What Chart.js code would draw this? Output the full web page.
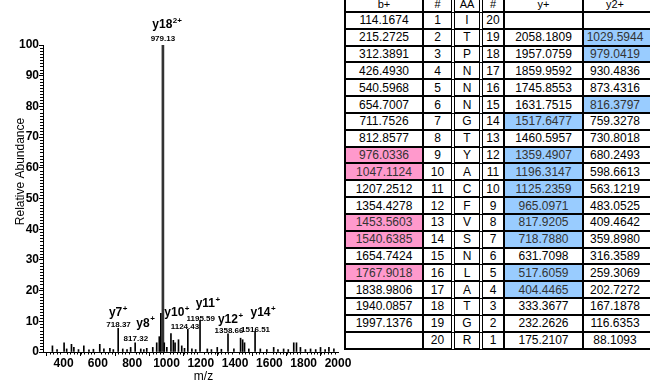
<!DOCTYPE html>
<html>
<head>
<meta charset="utf-8">
<script src="https://cdn.jsdelivr.net/npm/chart.js@4/dist/chart.umd.min.js"></script>
<style>
  html, body { margin: 0; padding: 0; background: #fff; overflow: hidden; }
  #wrap { position: relative; width: 650px; height: 385px; }
  #spec { position: absolute; left: 0; top: 0; }
  #frag {
    position: absolute; left: 344px; top: -4px; z-index: 2;
    display: grid;
    grid-template-columns: 78px 31px 28px 22px 79px 72px;
    grid-template-rows: 15px repeat(20, 16.84px);
    border-left: 2px solid #000; border-top: 2px solid #000;
    background: #fff;
    font-family: "Liberation Sans", Arial, sans-serif; font-size: 12px;
  }
  #frag div {
    box-sizing: border-box;
    border-right: 2px solid #000; border-bottom: 2px solid #000;
    display: flex; align-items: center; justify-content: center;
    color: #000; white-space: nowrap; line-height: 1;
  }
  #frag div.hd { font-size: 11px; }
  #frag div.c2, #frag div.c3 { border-right: 4px double #000; }
  #frag div.c6 { padding-right: 8px; }
  #frag div.pink { background: #ff99cc; color: #333; }
  #frag div.blue { background: #99ccff; color: #333; }
</style>
</head>
<body>
<div id="wrap">
  <canvas id="spec" width="650" height="385"></canvas>
  <div id="frag"></div>
</div>
<script>
// ---- spectrum: annotated fragment ions ----
const ionMz        = [718.37, 817.32, 979.13, 1124.43, 1195.59, 1358.66, 1516.51];
const ionIntensity = [7.7,    3.0,    100,    7.4,     10.3,    5.9,     6.8];
const ionNames     = ['y7',   'y8',   'y18',  'y10',   'y11',   'y12',   'y14'];
const ionCharges   = ['+',    '+',    '2+',   '+',     '+',     '+',     '+'];

// ---- spectrum: unassigned peaks ----
const otherMz = [335, 362, 403, 418, 446, 460, 487, 518, 548, 574, 611, 635, 670, 690,
  745, 770, 791, 850, 868, 885, 920, 943, 958, 967, 987, 1002, 1026, 1040, 1050, 1070,
  1089, 1105, 1148, 1170, 1238, 1262, 1296, 1320, 1393, 1432, 1444, 1455, 1480, 1547,
  1585, 1625, 1650, 1683, 1710, 1742, 1758, 1781, 1810, 1840, 1870, 1898, 1925, 1947, 1976];
const otherIntensity = [2.0, 0.8, 3.0, 1.0, 2.5, 1.5, 0.8, 2.0, 0.7, 0.9, 2.5, 1.0, 1.2, 0.8,
  1.0, 0.8, 1.5, 1.0, 0.8, 1.2, 1.5, 3.0, 5.0, 12.6, 3.0, 1.5, 6.0, 3.8, 3.0, 4.0,
  2.0, 1.2, 1.0, 0.8, 1.0, 0.8, 1.5, 0.9, 1.0, 4.5, 4.0, 3.0, 1.0, 1.0,
  0.8, 1.5, 0.8, 1.0, 0.8, 3.0, 3.0, 1.5, 0.8, 1.0, 0.8, 1.5, 0.8, 1.5, 1.0];

// ---- axes ----
const xTickValues = [400, 600, 800, 1000, 1200, 1400, 1600, 1800, 2000];
const yTickValues = [0, 10, 20, 30, 40, 50, 60, 70, 80, 90, 100];

// ---- fragment table ----
const bIons = [114.1674, 215.2725, 312.3891, 426.4930, 540.5968, 654.7007, 711.7526, 812.8577,
  976.0336, 1047.1124, 1207.2512, 1354.4278, 1453.5603, 1540.6385, 1654.7424, 1767.9018,
  1838.9806, 1940.0857, 1997.1376, null];
const residues = ['I','T','P','N','N','N','G','T','Y','A','C','F','V','S','N','L','A','T','G','R'];
const yIons = [null, 2058.1809, 1957.0759, 1859.9592, 1745.8553, 1631.7515, 1517.6477, 1460.5957,
  1359.4907, 1196.3147, 1125.2359, 965.0971, 817.9205, 718.7880, 631.7098, 517.6059,
  404.4465, 333.3677, 232.2626, 175.2107];
const y2Ions = [null, 1029.5944, 979.0419, 930.4836, 873.4316, 816.3797, 759.3278, 730.8018,
  680.2493, 598.6613, 563.1219, 483.0525, 409.4642, 359.8980, 316.3589, 259.3069,
  202.7272, 167.1878, 116.6353, 88.1093];
const bMatched  = [9, 10, 13, 14, 16];
const yMatched  = [7, 9, 10, 11, 12, 13, 14, 16, 17];
const y2Matched = [2, 3, 6];

// label placement around each annotated peak top: [valueDx, valueDy, nameDx, nameDy]
const labelPlacement = [
  [0.4, -3.4, 0, -15.7],
  [0.7, -3.5, 10.4, -19.5],
  [0, -6.7, 4.2, -20],
  [-2.9, -2.6, -10.9, -16.6],
  [0.7, -1.4, 7.9, -16.4],
  [1, -3.2, 2.5, -13.9],
  [0.5, -1.8, 8, -18.4]
];

const FONT = '"Liberation Sans", Arial, sans-serif';

// build the fragment table
(function buildTable() {
  const grid = document.getElementById('frag');
  const add = (text, cls) => {
    const d = document.createElement('div');
    d.className = cls;
    d.textContent = text;
    grid.appendChild(d);
  };
  ['b+', '#', 'AA', '#', 'y+', 'y2+'].forEach((h, i) => add(h, 'hd c' + (i + 1)));
  const n = residues.length;
  for (let i = 0; i < n; i++) {
    const row = i + 1;
    add(bIons[i] == null ? '' : bIons[i].toFixed(4), 'c1' + (bMatched.includes(row) ? ' pink' : ''));
    add(String(row), 'c2');
    add(residues[i], 'c3');
    add(String(n - i), 'c4');
    add(yIons[i] == null ? '' : yIons[i].toFixed(4), 'c5' + (yMatched.includes(row) ? ' blue' : ''));
    add(y2Ions[i] == null ? '' : y2Ions[i].toFixed(4), 'c6' + (y2Matched.includes(row) ? ' blue' : ''));
  }
})();

const basePeak = Math.max(...ionIntensity);
const minorTicks = {
  id: 'minorTicks',
  afterDraw(chart) {
    const { ctx, chartArea: a, scales: { x, y } } = chart;
    ctx.save();
    ctx.strokeStyle = '#000';
    ctx.lineWidth = 1;
    ctx.beginPath();
    for (let v = 1; v < 100; v++) {
      if (v % 10 === 0) continue;
      const py = Math.round(y.getPixelForValue(v)) + 0.5;
      ctx.moveTo(a.left - 3, py); ctx.lineTo(a.left, py);
    }
    for (let v = 300; v < 2000; v += 20) {
      if (v % 200 === 0) continue;
      const px = Math.round(x.getPixelForValue(v)) + 0.5;
      ctx.moveTo(px, a.bottom); ctx.lineTo(px, a.bottom + 2.5);
    }
    ctx.stroke();
    ctx.restore();
  }
};

const peakLabels = {
  id: 'peakLabels',
  afterDatasetsDraw(chart) {
    const { ctx, scales: { x, y } } = chart;
    ctx.save();
    ctx.fillStyle = '#000';
    ctx.textBaseline = 'middle';
    ionMz.forEach((mz, i) => {
      const px = x.getPixelForValue(mz);
      const py = y.getPixelForValue(ionIntensity[i]);
      const p = labelPlacement[i];
      ctx.font = 'bold 8px ' + FONT;
      ctx.textAlign = 'center';
      ctx.fillText(mz.toFixed(2), px + p[0], py + p[1]);
      ctx.font = 'bold 12px ' + FONT;
      const wName = ctx.measureText(ionNames[i]).width;
      ctx.font = 'bold 8px ' + FONT;
      const wCharge = ctx.measureText(ionCharges[i]).width;
      const left = px + p[2] - (wName + wCharge + 0.5) / 2;
      ctx.textAlign = 'left';
      ctx.font = 'bold 12px ' + FONT;
      ctx.fillText(ionNames[i], left, py + p[3]);
      ctx.font = 'bold 8px ' + FONT;
      ctx.fillText(ionCharges[i], left + wName + 0.5, py + p[3] - 4);
    });
    ctx.restore();
  }
};

const axisTitles = {
  id: 'axisTitles',
  afterDraw(chart) {
    const { ctx, chartArea: a } = chart;
    ctx.save();
    ctx.fillStyle = '#000';
    ctx.font = '12px ' + FONT;
    ctx.textAlign = 'center';
    ctx.textBaseline = 'middle';
    ctx.fillText('m/z', (a.left + a.right) / 2 + 13, a.bottom + 25);
    ctx.translate(21, (a.top + a.bottom) / 2 - 27);
    ctx.rotate(-Math.PI / 2);
    ctx.fillText('Relative Abundance', 0, 0);
    ctx.restore();
  }
};

new Chart(document.getElementById('spec'), {
  type: 'bar',
  data: {
    datasets: [
      {
        data: otherMz.map((m, i) => ({ x: m, y: otherIntensity[i] })),
        backgroundColor: '#000', barThickness: 1, grouped: false
      },
      {
        data: ionMz.map((m, i) => ({ x: m, y: ionIntensity[i] })).filter(d => d.y < basePeak),
        backgroundColor: '#000', barThickness: 1, grouped: false
      },
      {
        data: ionMz.map((m, i) => ({ x: m, y: ionIntensity[i] })).filter(d => d.y === basePeak),
        backgroundColor: '#333', barThickness: 2, grouped: false
      }
    ]
  },
  options: {
    responsive: false,
    animation: false,
    devicePixelRatio: 1,
    events: [],
    layout: { padding: { left: 0, right: 312, top: 45, bottom: 0 } },
    plugins: { legend: { display: false }, tooltip: { enabled: false } },
    scales: {
      x: {
        type: 'linear', min: 280, max: 2000, offset: false,
        afterBuildTicks: s => { s.ticks = xTickValues.map(v => ({ value: v })); },
        afterFit: s => { s.height = 33; },
        grid: { drawOnChartArea: false, drawTicks: true, tickLength: 4, color: '#000' },
        border: { display: true, color: '#000', width: 1 },
        ticks: {
          color: '#000', font: { family: FONT, size: 12, weight: 'bold' }, padding: 0,
          maxRotation: 0, autoSkip: false, callback: v => String(v)
        }
      },
      y: {
        min: 0, max: 100,
        afterBuildTicks: s => { s.ticks = yTickValues.map(v => ({ value: v })); },
        afterFit: s => { s.width = 43; },
        grid: { drawOnChartArea: false, drawTicks: true, tickLength: 4, color: '#000' },
        border: { display: true, color: '#000', width: 1 },
        ticks: {
          color: '#000', font: { family: FONT, size: 12, weight: 'bold' }, padding: 0,
          callback: v => String(v)
        }
      }
    }
  },
  plugins: [minorTicks, peakLabels, axisTitles]
});
</script>
</body>
</html>
